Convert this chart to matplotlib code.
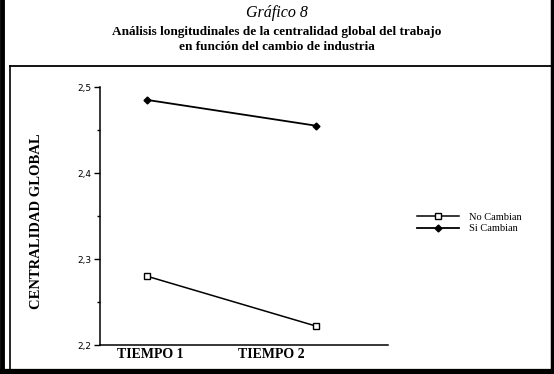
import matplotlib
matplotlib.use("Agg")
import matplotlib.pyplot as plt
from matplotlib.lines import Line2D

times = ["TIEMPO 1", "TIEMPO 2"]
no_cambian = [2.280, 2.222]
si_cambian = [2.485, 2.455]
yticks = [2.2, 2.3, 2.4, 2.5]
ytick_labels = ["2,2", "2,3", "2,4", "2,5"]

W, H = 554, 374
fig = plt.figure(figsize=(W / 100, H / 100), dpi=100)
SERIF = ["Liberation Serif", "DejaVu Serif"]

def fx(px):
    return px / W

def fy(py):
    return 1 - py / H

# frame lines around the page
for xs, ys, lw in [
    ([1.5, 1.5], [0, H], 3.5),
    ([552, 552], [0, H], 2.5),
    ([0, W], [372, 372], 4.5),
    ([10, 10], [66, H], 1.2),
    ([10, 552], [65.5, 65.5], 1.3),
]:
    fig.add_artist(Line2D([fx(x) for x in xs], [fy(y) for y in ys],
                          color="black", lw=lw))

fig.text(0.5, fy(13), "Gráfico 8", ha="center", va="center",
         family=SERIF, style="italic", fontsize=11.5)
fig.text(0.5, fy(32), "Análisis longitudinales de la centralidad global del trabajo",
         ha="center", va="center", family=SERIF, weight="bold", fontsize=9.5)
fig.text(0.5, fy(47), "en función del cambio de industria",
         ha="center", va="center", family=SERIF, weight="bold", fontsize=9.5)

ax = fig.add_axes([fx(100), fy(345), fx(388) - fx(100), fy(87) - fy(345)])
x = [0, 1]
ax.plot(x, si_cambian, color="black", lw=1.3, marker="D", ms=3.5,
        mfc="black", mec="black", label="Si Cambian")
ax.plot(x, no_cambian, color="black", lw=1.1, marker="s", ms=4,
        mfc="white", mec="black", mew=1.0, label="No Cambian")

ax.set_xlim(-47 / 169, 1 + 72 / 169)
ax.set_ylim(2.2, 2.5)
ax.set_yticks(yticks)
ax.set_yticklabels(ytick_labels, fontsize=6.5, family="DejaVu Sans")
ax.set_yticks([2.25, 2.35, 2.45], minor=True)
ax.tick_params(axis="y", which="major", length=4, width=1, pad=2)
ax.tick_params(axis="y", which="minor", length=2.5, width=1)
ax.set_xticks([])
for s in ["top", "right"]:
    ax.spines[s].set_visible(False)
for s in ["left", "bottom"]:
    ax.spines[s].set_linewidth(1.1)

fig.text(fx(150), fy(355), times[0], ha="center", va="center",
         family=SERIF, weight="bold", fontsize=10)
fig.text(fx(271), fy(355), times[1], ha="center", va="center",
         family=SERIF, weight="bold", fontsize=10)

fig.text(fx(37), fy(221), "CENTRALIDAD GLOBAL", rotation=90, ha="center",
         va="center", family=SERIF, weight="bold", fontsize=10.5)

h1, h2 = ax.get_legend_handles_labels()
leg = ax.legend([h1[1], h1[0]], [h2[1], h2[0]], loc="center left",
                bbox_to_anchor=(fx(412), fy(223)), bbox_transform=fig.transFigure,
                frameon=False, prop={"family": SERIF, "size": 7.5},
                handlelength=4, handletextpad=1.0, labelspacing=0.2,
                borderpad=0)

fig.savefig("out.png", dpi=100, facecolor="white")
